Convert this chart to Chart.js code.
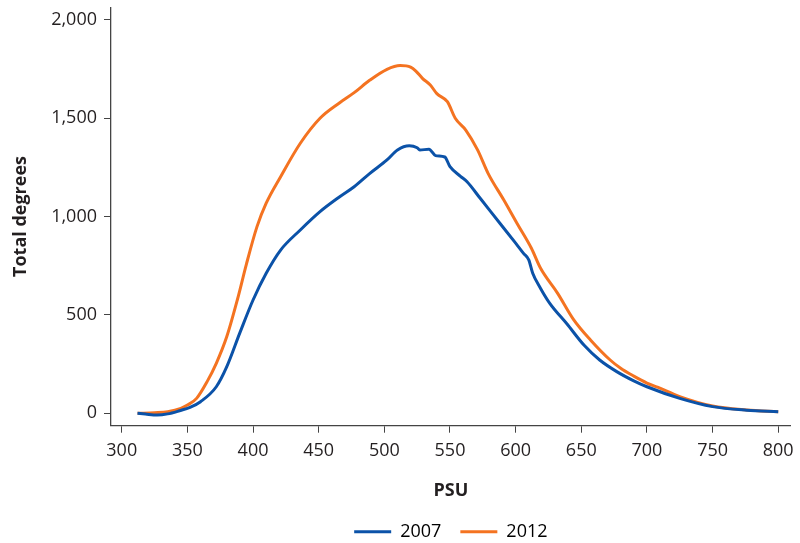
<!DOCTYPE html>
<html>
<head>
<meta charset="utf-8">
<script src="https://cdn.jsdelivr.net/npm/chart.js@4.4.1/dist/chart.umd.min.js"></script>
<style>
    html, body { margin: 0; padding: 0; background: #fff; }
    #wrap { width: 800px; height: 543px; }
</style>
</head>
<body>
<div id="wrap"><canvas id="psuChart" width="800" height="543"></canvas></div>
<script>
// ===== Data =====
const seriesNames = ['2007', '2012'];

const psu2007 = [312, 318, 327, 335, 344, 352, 360, 372, 380, 390, 400, 410, 421, 436, 451, 466, 477, 489, 502, 510, 519, 525, 527, 534, 539, 546, 550, 558, 563, 573, 588, 600, 606, 610, 613, 619, 626, 639, 652, 664, 677, 690, 700, 725, 750, 776, 800];
const deg2007 = [0, -4, -9, -3, 13, 30, 59, 135, 237, 410, 576, 712, 830, 932, 1025, 1101, 1152, 1220, 1288, 1339, 1360, 1350, 1339, 1342, 1310, 1303, 1254, 1205, 1177, 1093, 966, 865, 813, 780, 712, 635, 559, 455, 347, 271, 212, 165, 135, 76, 34, 16, 8];

const psu2012 = [312, 325, 335, 345, 350, 357, 365, 372, 380, 388, 395, 403, 410, 421, 436, 451, 466, 477, 489, 502, 512, 520, 524, 529, 535, 540, 548, 554, 562, 571, 579, 591, 601, 612, 619, 632, 644, 657, 672, 680, 690, 700, 708, 725, 750, 776, 800];
const deg2012 = [0, 3, 8, 25, 42, 76, 161, 254, 390, 576, 760, 949, 1068, 1203, 1373, 1500, 1579, 1630, 1694, 1749, 1768, 1760, 1740, 1703, 1669, 1625, 1584, 1500, 1440, 1339, 1220, 1084, 966, 839, 737, 610, 478, 373, 271, 229, 189, 154, 133, 85, 37, 17, 8];

const xTicks = [300, 350, 400, 450, 500, 550, 600, 650, 700, 750, 800];
const yTicks = [0, 500, 1000, 1500, 2000];

const colors = ['#0b52a8', '#f47321'];
const textColor = '#231f20';
const axisColor = '#444444';

Chart.defaults.font.family = "'Open Sans', sans-serif";
Chart.defaults.color = textColor;

function toPoints(xs, ys) {
    return xs.map((x, i) => ({ x: x, y: ys[i] }));
}

// ===== Chart =====
const ctx = document.getElementById('psuChart').getContext('2d');
new Chart(ctx, {
    type: 'line',
    data: {
        datasets: [
            {
                label: seriesNames[0],
                data: toPoints(psu2007, deg2007),
                borderColor: colors[0],
                backgroundColor: colors[0],
                borderWidth: 3,
                pointRadius: 0,
                cubicInterpolationMode: 'monotone',
                fill: false
            },
            {
                label: seriesNames[1],
                data: toPoints(psu2012, deg2012),
                borderColor: colors[1],
                backgroundColor: colors[1],
                borderWidth: 3,
                pointRadius: 0,
                cubicInterpolationMode: 'monotone',
                fill: false
            }
        ]
    },
    options: {
        responsive: false,
        animation: false,
        devicePixelRatio: 1,
        layout: { padding: { top: 7.3, right: 9.3, bottom: -7.7, left: 0 } },
        scales: {
            x: {
                type: 'linear',
                min: 291.8,
                max: 809.5,
                afterBuildTicks: s => { s.ticks = xTicks.map(v => ({ value: v })); },
                afterFit: s => {
                    s.height = 78;
                    s.paddingLeft = 0;
                    s.paddingRight = 0;
                },
                grid: {
                    drawOnChartArea: false,
                    drawTicks: true,
                    tickLength: 7,
                    color: axisColor,
                    lineWidth: 1
                },
                border: { display: true, color: axisColor, width: 1.3 },
                ticks: {
                    padding: 7.5,
                    maxRotation: 0,
                    font: { size: 18 },
                    color: textColor
                },
                title: {
                    display: true,
                    text: 'PSU',
                    font: { size: 18, weight: 'bold' },
                    color: textColor,
                    padding: { top: 0, bottom: 2.5 }
                }
            },
            y: {
                min: -63,
                max: 2064,
                afterBuildTicks: s => { s.ticks = yTicks.map(v => ({ value: v })); },
                afterFit: s => {
                    s.width = 111;
                    s.paddingTop = 0;
                    s.paddingBottom = 0;
                },
                grid: {
                    drawOnChartArea: false,
                    drawTicks: true,
                    tickLength: 7,
                    color: axisColor,
                    lineWidth: 1
                },
                border: { display: true, color: axisColor, width: 1.3 },
                ticks: {
                    padding: 7,
                    font: { size: 18 },
                    color: textColor,
                    callback: v => v.toLocaleString('en-US')
                },
                title: {
                    display: true,
                    text: 'Total degrees',
                    font: { size: 18, weight: 'bold' },
                    color: textColor,
                    padding: { top: 10, bottom: 0 }
                }
            }
        },
        plugins: {
            legend: {
                position: 'bottom',
                fullSize: false,
                labels: {
                    boxWidth: 37,
                    boxHeight: 3,
                    padding: 19,
                    font: { size: 18 },
                    color: textColor,
                    generateLabels: chart => chart.data.datasets.map((d, i) => ({
                        text: d.label,
                        fillStyle: d.borderColor,
                        strokeStyle: d.borderColor,
                        lineWidth: 0,
                        hidden: false,
                        datasetIndex: i
                    }))
                }
            },
            tooltip: { enabled: false }
        }
    }
});
</script>
</body>
</html>
